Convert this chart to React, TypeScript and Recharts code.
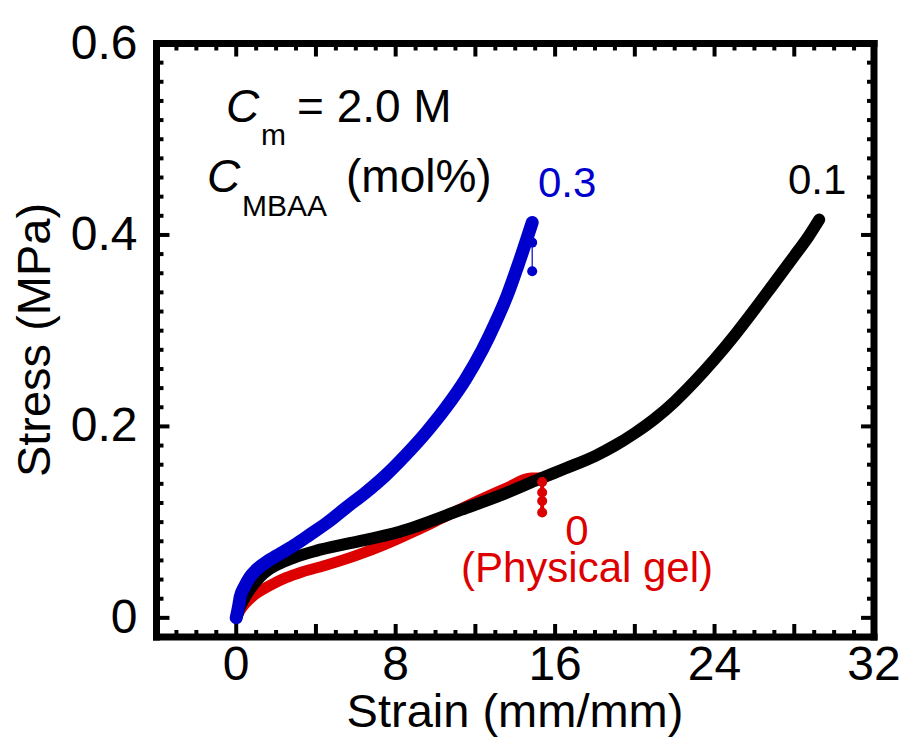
// Stress–strain curves of gels at Cm = 2.0 M with different MBAA crosslinker contents.
import { Line, LineChart, ReferenceLine, XAxis, YAxis } from "recharts";

const FONT = '"Liberation Sans", Arial, Helvetica, sans-serif';
const BLUE = "#0000cc";
const RED = "#dd0000";

// 0.3 mol% MBAA
const blueStrain = [0, 0.1, 0.2, 0.4, 0.7, 1.0, 1.5, 2.2, 3.0, 3.7, 4.6, 5.5, 6.5, 7.5, 8.5, 9.5, 10.5, 11.5, 12.35, 13.0, 13.6, 14.2, 14.85];
const blueStress = [0, 0.01, 0.022, 0.032, 0.043, 0.05, 0.058, 0.067, 0.077, 0.087, 0.1, 0.115, 0.131, 0.149, 0.17, 0.193, 0.219, 0.249, 0.28, 0.308, 0.337, 0.372, 0.413];
const blueBreakStrain = [14.85, 14.85, 14.85];
const blueBreakStress = [0.413, 0.392, 0.362];

// 0.1 mol% MBAA
const blackStrain = [0, 0.2, 0.5, 0.8, 1.2, 1.6, 2.2, 2.9, 4.0, 5.7, 8.2, 11.3, 13.5, 15.2, 16.5, 18, 19, 20, 21, 22, 23, 24, 25, 26, 27, 28, 28.7, 29.25];
const blackStress = [0, 0.012, 0.024, 0.033, 0.043, 0.05, 0.057, 0.063, 0.07, 0.078, 0.09, 0.113, 0.13, 0.145, 0.156, 0.169, 0.18, 0.193, 0.208, 0.226, 0.247, 0.27, 0.295, 0.322, 0.35, 0.378, 0.398, 0.416];

// 0 mol% (physical gel)
const redStrain = [0, 0.2, 0.5, 0.8, 1.2, 1.8, 2.5, 3.3, 4.5, 6.0, 7.5, 9.0, 10.5, 12.0, 13.5, 14.8, 15.3];
const redStress = [0, 0.008, 0.016, 0.022, 0.028, 0.035, 0.042, 0.048, 0.055, 0.065, 0.077, 0.091, 0.106, 0.121, 0.135, 0.146, 0.146];
const redBreakStrain = [15.35, 15.35, 15.35, 15.35];
const redBreakStress = [0.142, 0.131, 0.122, 0.11];

const X_MIN = -4;
const X_MAX = 32;
const Y_MIN = -0.02;
const Y_MAX = 0.6;

const xLabelTicks = [0, 8, 16, 24, 32];
const yLabelTicks = [0, 0.2, 0.4, 0.6];
const xMinorTicks = Array.from({ length: 35 }, (_, i) => i - 3); // -3 .. 31, every 1
const yMinorTicks = Array.from({ length: 30 }, (_, i) => Math.round(i * 2) / 100); // 0 .. 0.58, every 0.02

const zip = (xs: number[], ys: number[]) => xs.map((x, i) => ({ x, y: ys[i] }));

const isMajorX = (v: number) => Math.abs(v % 4) < 1e-6;
const isMajorY = (v: number) => Math.round(v * 100) % 20 === 0;

// tick lengths in data units (~13px major, ~7px minor)
const xTickLen = (v: number) => (isMajorX(v) ? 0.65 : 0.35);
const yTickLen = (v: number) => (isMajorY(v) ? 0.0136 : 0.0073);

function BottomLabel(props: any) {
  const { x, y, payload } = props;
  const v = payload.value;
  return (
    <text x={x} y={y + 43} textAnchor="middle" fontSize={48} fontFamily={FONT} fill="#000">
      {v}
    </text>
  );
}

function LeftLabel(props: any) {
  const { x, y, payload } = props;
  const v = payload.value;
  return (
    <text x={x - 19} y={y + 15} textAnchor="end" fontSize={48} fontFamily={FONT} fill="#000">
      {v === 0 ? "0" : v.toFixed(1)}
    </text>
  );
}

const frameLine = { stroke: "#000", strokeWidth: 7, strokeLinecap: "square" as const };
const tickStyle = { stroke: "#000", strokeWidth: 4 };

export default function App() {
  return (
    <div style={{ position: "absolute", left: 0, top: 0, width: 904, height: 740, background: "#fff", fontFamily: FONT }}>
      <LineChart width={904} height={740} margin={{ top: 0, right: 0, bottom: 0, left: 0 }}>
        <XAxis
          xAxisId="b"
          orientation="bottom"
          type="number"
          dataKey="x"
          domain={[X_MIN, X_MAX]}
          allowDataOverflow
          ticks={xLabelTicks}
          interval={0}
          height={103}
          tickSize={0}
          tickMargin={0}
          tickLine={false}
          axisLine={frameLine}
          tick={<BottomLabel />}
        />
        <XAxis
          xAxisId="t"
          orientation="top"
          type="number"
          dataKey="x"
          domain={[X_MIN, X_MAX]}
          allowDataOverflow
          ticks={[]}
          height={43.5}
          tickLine={false}
          tick={false}
          axisLine={frameLine}
        />
        <YAxis
          yAxisId="l"
          orientation="left"
          type="number"
          domain={[Y_MIN, Y_MAX]}
          allowDataOverflow
          ticks={yLabelTicks}
          interval={0}
          width={156.5}
          tickSize={0}
          tickMargin={0}
          tickLine={false}
          axisLine={frameLine}
          tick={<LeftLabel />}
        />
        <YAxis
          yAxisId="r"
          orientation="right"
          type="number"
          domain={[Y_MIN, Y_MAX]}
          allowDataOverflow
          ticks={[]}
          width={30}
          tickLine={false}
          tick={false}
          axisLine={frameLine}
        />

        {xMinorTicks.map((v) => (
          <ReferenceLine
            key={`xb${v}`}
            xAxisId="b"
            yAxisId="l"
            segment={[{ x: v, y: Y_MIN }, { x: v, y: Y_MIN + yTickLen(v * 0.05) * 0 + (isMajorX(v) ? 0.0136 : 0.0073) }]}
            {...tickStyle}
          />
        ))}
        {xMinorTicks.map((v) => (
          <ReferenceLine
            key={`xt${v}`}
            xAxisId="b"
            yAxisId="l"
            segment={[{ x: v, y: Y_MAX }, { x: v, y: Y_MAX - (isMajorX(v) ? 0.0136 : 0.0073) }]}
            {...tickStyle}
          />
        ))}
        {yMinorTicks.map((v) => (
          <ReferenceLine
            key={`yl${v}`}
            xAxisId="b"
            yAxisId="l"
            segment={[{ x: X_MIN, y: v }, { x: X_MIN + xTickLen(v * 0) * 0 + (isMajorY(v) ? 0.65 : 0.35), y: v }]}
            {...tickStyle}
          />
        ))}
        {yMinorTicks.map((v) => (
          <ReferenceLine
            key={`yr${v}`}
            xAxisId="b"
            yAxisId="l"
            segment={[{ x: X_MAX, y: v }, { x: X_MAX - (isMajorY(v) ? 0.65 : 0.35), y: v }]}
            {...tickStyle}
          />
        ))}

        <Line
          xAxisId="b"
          yAxisId="l"
          data={zip(redStrain, redStress)}
          dataKey="y"
          type="monotone"
          stroke={RED}
          strokeWidth={11}
          strokeLinecap="round"
          strokeLinejoin="round"
          dot={false}
          isAnimationActive={false}
        />
        <Line
          xAxisId="b"
          yAxisId="l"
          data={zip(redBreakStrain, redBreakStress)}
          dataKey="y"
          type="linear"
          stroke={RED}
          strokeWidth={4}
          dot={{ r: 5, fill: RED, stroke: RED, strokeWidth: 0 }}
          isAnimationActive={false}
        />
        <Line
          xAxisId="b"
          yAxisId="l"
          data={zip(blackStrain, blackStress)}
          dataKey="y"
          type="monotone"
          stroke="#000"
          strokeWidth={12}
          strokeLinecap="round"
          strokeLinejoin="round"
          dot={false}
          isAnimationActive={false}
        />
        <Line
          xAxisId="b"
          yAxisId="l"
          data={zip(blueStrain, blueStress)}
          dataKey="y"
          type="monotone"
          stroke={BLUE}
          strokeWidth={13}
          strokeLinecap="round"
          strokeLinejoin="round"
          dot={false}
          isAnimationActive={false}
        />
        <Line
          xAxisId="b"
          yAxisId="l"
          data={zip(blueBreakStrain, blueBreakStress)}
          dataKey="y"
          type="linear"
          stroke={BLUE}
          strokeWidth={1.2}
          dot={{ r: 5, fill: BLUE, stroke: BLUE, strokeWidth: 0 }}
          isAnimationActive={false}
        />
      </LineChart>

      <svg width={904} height={740} style={{ position: "absolute", left: 0, top: 0, pointerEvents: "none" }} fontFamily={FONT}>
        <text x={226} y={122} fontSize={46} fontStyle="italic">C</text>
        <text x={261} y={145} fontSize={30}>m</text>
        <text x={297} y={122} fontSize={46}>= 2.0 M</text>

        <text x={207} y={192} fontSize={46} fontStyle="italic">C</text>
        <text x={242} y={216} fontSize={30}>MBAA</text>
        <text x={346} y={192} fontSize={46}>(mol%)</text>

        <text x={538} y={197} fontSize={42} fill={BLUE}>0.3</text>
        <text x={788} y={194} fontSize={42} fill="#000">0.1</text>
        <text x={577} y={545} fontSize={42} fill={RED} textAnchor="middle">0</text>
        <text x={587} y={582} fontSize={42} fill={RED} textAnchor="middle">(Physical gel)</text>

        <text x={515} y={727} fontSize={47} textAnchor="middle">Strain (mm/mm)</text>
        <text x={50} y={340} fontSize={47} textAnchor="middle" transform="rotate(-90, 50, 340)">Stress (MPa)</text>
      </svg>
    </div>
  );
}
